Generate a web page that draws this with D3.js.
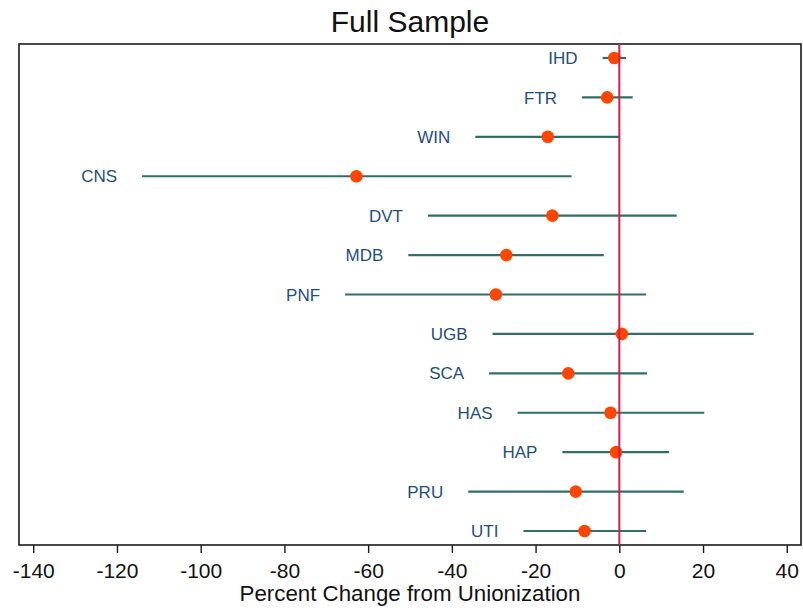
<!DOCTYPE html>
<html>
<head>
<meta charset="utf-8">
<script src="https://cdn.jsdelivr.net/npm/d3@7"></script>
<style>
  body { margin: 0; background: #fff; }
  text { font-family: "Liberation Sans", Arial, Helvetica, sans-serif; }
</style>
</head>
<body>
<svg id="chart" width="803" height="610"></svg>
<script>
// estimates
let outcomes = ["IHD", "FTR", "WIN", "CNS", "DVT", "MDB", "PNF", "UGB", "SCA", "HAS", "HAP", "PRU", "UTI"],
  estimate = [-1.2, -2.9, -17.1, -62.8, -16.0, -27.0, -29.5, 0.6, -12.2, -2.1, -0.8, -10.4, -8.3],
  lower = [-4.0, -8.9, -34.4, -114.0, -45.7, -50.4, -65.5, -30.3, -31.1, -24.3, -13.6, -36.1, -22.9],
  upper = [1.6, 3.2, 0.2, -11.4, 13.7, -3.7, 6.4, 32.1, 6.6, 20.3, 11.9, 15.4, 6.4],
  x_ticks = [-140, -120, -100, -80, -60, -40, -20, 0, 20, 40];

let width = 803,
  height = 610,
  margins = {left: 19, right: 2, top: 44, bottom: 65};

let data = outcomes.map((d, i) => ({
  name: d, est: estimate[i], lo: lower[i], hi: upper[i]
}))

function make_scales() {
  return {
    x: d3.scaleLinear()
      .domain([-143.4, 43.4])
      .range([margins.left, width - margins.right]),
    y: d3.scalePoint()
      .domain(outcomes)
      .range([margins.top, height - margins.bottom])
      .padding(0.355)
  }
}

function draw() {
  let scales = make_scales(),
    svg = d3.select("#chart");

  svg.append("rect")
    .attr("x", margins.left)
    .attr("y", margins.top)
    .attr("width", width - margins.left - margins.right)
    .attr("height", height - margins.top - margins.bottom)
    .attr("fill", "none")
    .attr("stroke", "#1a1a1a")
    .attr("stroke-width", 1.6)

  let rows = svg.append("g").selectAll("g")
    .data(data).enter()
    .append("g")

  rows.append("line")
    .attr("x1", d => scales.x(d.lo))
    .attr("x2", d => scales.x(d.hi))
    .attr("y1", d => scales.y(d.name))
    .attr("y2", d => scales.y(d.name))
    .attr("stroke", "#2f6f68")
    .attr("stroke-width", 2.2)

  rows.append("text")
    .text(d => d.name)
    .attr("x", d => scales.x(d.lo) - 25)
    .attr("y", d => scales.y(d.name))
    .attr("dy", "0.36em")
    .attr("text-anchor", "end")
    .attr("font-size", 17)
    .attr("fill", "#1f4e79")

  svg.append("line")
    .attr("x1", scales.x(0))
    .attr("x2", scales.x(0))
    .attr("y1", margins.top)
    .attr("y2", height - margins.bottom)
    .attr("stroke", "#cf1f4f")
    .attr("stroke-width", 2)

  rows.append("circle")
    .attr("cx", d => scales.x(d.est))
    .attr("cy", d => scales.y(d.name))
    .attr("r", 6.3)
    .attr("fill", "#ff4500")

  let x_axis = svg.append("g")
    .attr("transform", `translate(0, ${height - margins.bottom})`)
    .call(d3.axisBottom(scales.x)
      .tickValues(x_ticks)
      .tickFormat(d => String(d))
      .tickSize(8).tickSizeOuter(0).tickPadding(10))
  x_axis.select(".domain").remove()
  x_axis.selectAll("line").attr("stroke", "#1a1a1a").attr("stroke-width", 1.4)
  x_axis.selectAll("text")
    .attr("font-size", 21)
    .attr("font-family", "'Liberation Sans', Arial, sans-serif")
    .attr("fill", "#111")

  svg.append("text")
    .text("Percent Change from Unionization")
    .attr("x", 410)
    .attr("y", 601)
    .attr("text-anchor", "middle")
    .attr("font-size", 22.3)
    .attr("fill", "#111")

  svg.append("text")
    .text("Full Sample")
    .attr("x", 410)
    .attr("y", 32)
    .attr("text-anchor", "middle")
    .attr("font-size", 30)
    .attr("fill", "#111")
}

draw()
</script>
</body>
</html>
